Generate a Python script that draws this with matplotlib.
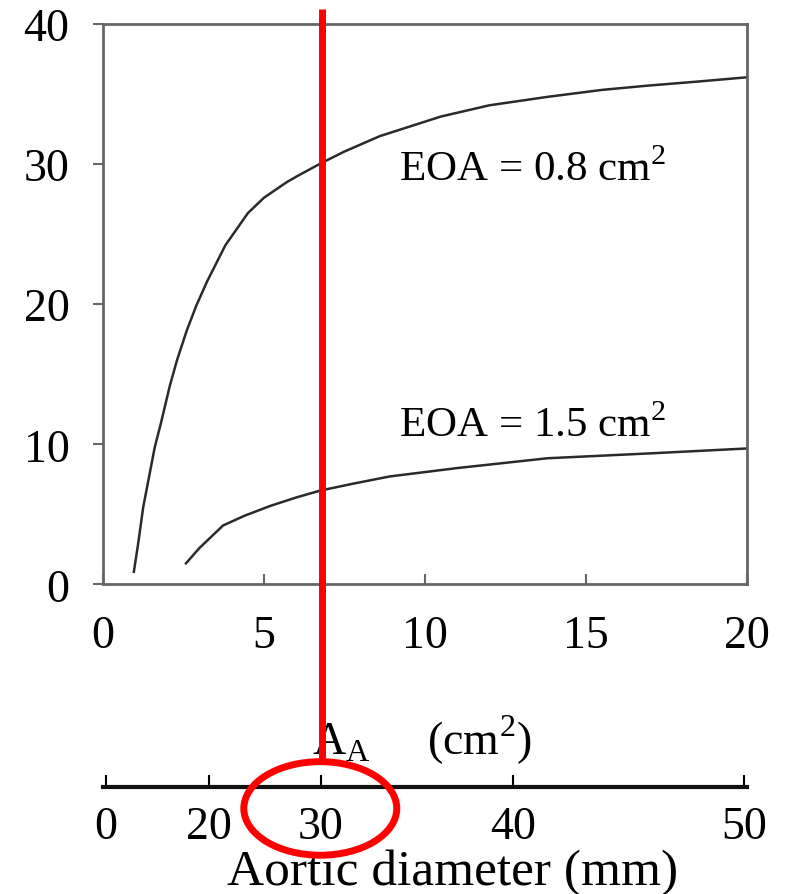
import matplotlib
matplotlib.use("Agg")
import matplotlib.pyplot as plt
from matplotlib.patches import Ellipse
import matplotlib.transforms as mtransforms

plt.rcParams['font.family'] = ['Liberation Serif', 'DejaVu Serif']
plt.rcParams['mathtext.fontset'] = 'custom'
plt.rcParams['mathtext.rm'] = 'Liberation Serif'

# ---- data ----
eoa08_area = [0.96, 1.1, 1.25, 1.61, 1.8, 2.08, 2.3, 2.6, 2.9, 3.23, 3.8, 4.5, 5.0, 5.7,
              6.0, 6.76, 7.5, 8.6, 10.5, 12.0, 13.8, 15.5, 16.9, 18.5, 20.0]
eoa08_grad = [0.9, 3.0, 5.5, 9.8, 11.5, 14.2, 16.0, 18.1, 19.9, 21.6, 24.2, 26.5, 27.6, 28.7,
              29.1, 30.05, 30.9, 32.0, 33.4, 34.2, 34.8, 35.3, 35.6, 35.9, 36.2]
eoa15_area = [2.58, 3.0, 3.73, 4.4, 5.2, 6.0, 6.76, 7.8, 8.9, 11.0, 13.8, 17.0, 20.0]
eoa15_grad = [1.5, 2.6, 4.2, 4.9, 5.6, 6.2, 6.7, 7.2, 7.7, 8.3, 9.0, 9.35, 9.7]
curve_labels = ["EOA = 0.8 cm$^{\\mathregular{2}}$", "EOA = 1.5 cm$^{\\mathregular{2}}$"]

x_ticks = [0, 5, 10, 15, 20]
y_ticks = [0, 10, 20, 30, 40]
diam_tick_labels = ["0", "20", "30", "40", "50"]
diam_tick_area = [0.1, 3.3, 6.76, 12.75, 19.9]
marker_area = 6.8

fig = plt.figure(figsize=(7.98, 8.95), dpi=100)
ax = fig.add_axes([0.129, 0.346, 0.807, 0.626])

ax.plot(eoa08_area, eoa08_grad, color='#2a2a2a', lw=1.8)
ax.plot(eoa15_area, eoa15_grad, color='#2a2a2a', lw=1.8)

ax.set_xlim(0, 20)
ax.set_ylim(0, 40)
ax.set_xticks(x_ticks)
ax.set_yticks(y_ticks)
for s in ax.spines.values():
    s.set_color('#666666')
    s.set_linewidth(2)
ax.tick_params(axis='x', direction='in', length=7, width=1.5, color='#666666',
               labelsize=33, pad=22)
ax.tick_params(axis='y', direction='out', length=7, width=1.5, color='#666666',
               labelsize=33, pad=17)

ax.text(9.2, 28.9, curve_labels[0], fontsize=31, va='baseline', ha='left')
ax.text(9.2, 10.6, curve_labels[1], fontsize=31, va='baseline', ha='left')

ax.set_xlabel("A$_{\\mathregular{A}}$     (cm$^{\\mathregular{2}}$)", fontsize=33)
ax.xaxis.set_label_coords(0.495, -0.23)

# secondary diameter axis
sec = ax.secondary_xaxis(-0.362)
sec.set_xticks(diam_tick_area)
sec.set_xticklabels(diam_tick_labels)
sec.spines['bottom'].set_linewidth(3)
sec.spines['bottom'].set_color('#111111')
sec.tick_params(axis='x', direction='in', length=9, width=1.5, labelsize=33, pad=13)
sec.set_xlabel("Aortic diameter (mm)", fontsize=37, labelpad=1)
sec.xaxis.label.set_x(0.543)

# red annotation
trans = mtransforms.blended_transform_factory(ax.transData, ax.transAxes)
ax.plot([marker_area, marker_area], [1.027, -0.317], color='red', lw=5,
        transform=trans, clip_on=False, solid_capstyle='butt', zorder=5)
ell = Ellipse((marker_area - 0.05, -0.400), width=4.75, height=0.167, transform=trans,
              fill=False, edgecolor='red', lw=5, clip_on=False, zorder=5)
ax.add_patch(ell)

fig.savefig("out.png", dpi=100)
